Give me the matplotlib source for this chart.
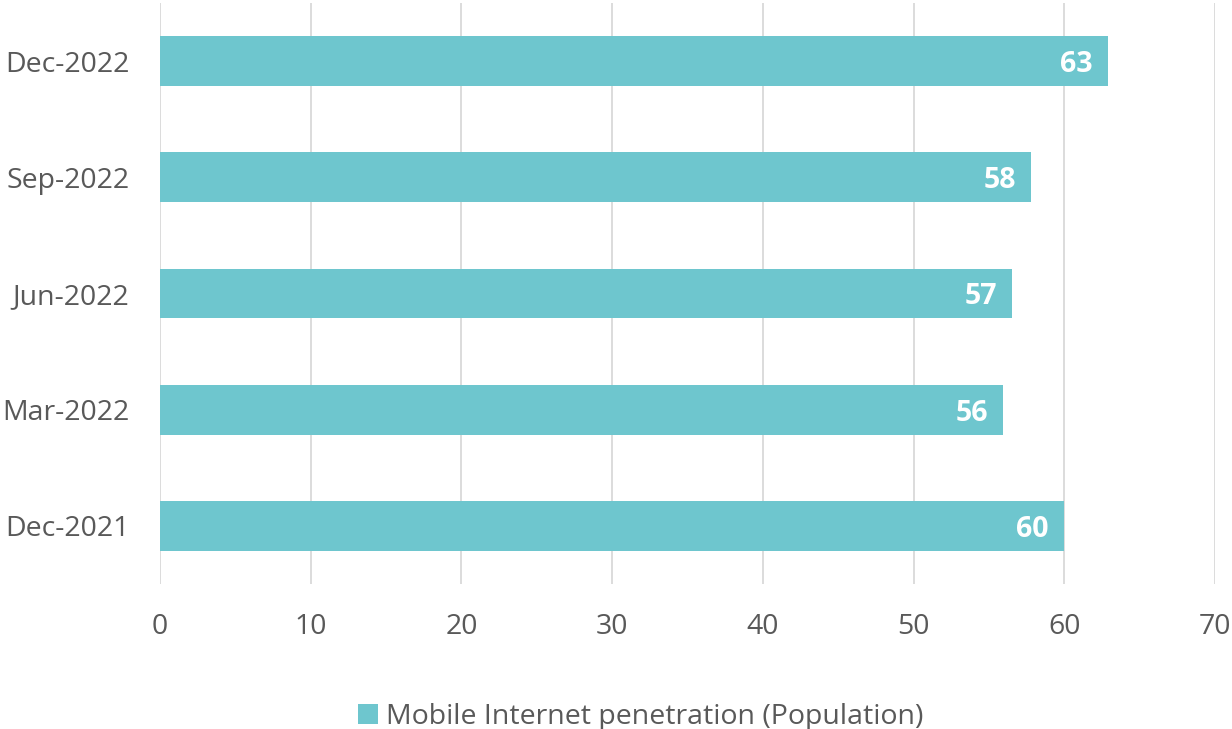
import matplotlib.pyplot as plt

# data
periods = ['Dec-2021', 'Mar-2022', 'Jun-2022', 'Sep-2022', 'Dec-2022']
penetration = [59.97, 55.96, 56.55, 57.8, 62.9]
series_name = 'Mobile Internet penetration (Population)'

bar_color = '#6EC6CE'
text_color = '#595959'

plt.rcParams['font.family'] = ['Open Sans', 'DejaVu Sans']

fig = plt.figure(figsize=(12.32, 7.29), dpi=100)
ax = fig.add_axes([160 / 1232, 1 - 584 / 729, (1215 - 160) / 1232, 581 / 729])

y = range(len(periods))
bars = ax.barh(y, penetration, height=0.43, color=bar_color, label=series_name, zorder=3)

for b, v in zip(bars, penetration):
    ax.text(b.get_width() - 1.0, b.get_y() + b.get_height() / 2 - 0.03, f'{v:.0f}',
            ha='right', va='center', color='white', fontsize=20.5, fontweight='bold', zorder=4)

ax.set_xlim(0, 70)
ax.set_ylim(-0.5, len(periods) - 0.5)
ax.set_xticks(range(0, 71, 10))
ax.set_yticks(list(y))
ax.set_yticklabels(periods)
ax.grid(axis='x', color='#D9D9D9', linewidth=1.3, zorder=0)
for s in ax.spines.values():
    s.set_visible(False)
ax.tick_params(axis='both', length=0, labelsize=20.5, labelcolor=text_color)
ax.tick_params(axis='x', pad=21)
ax.tick_params(axis='y', pad=22)

fig.legend(loc='lower center', bbox_to_anchor=(0.52, -0.038), frameon=False,
           fontsize=20.5, labelcolor=text_color, handlelength=0.7, handleheight=0.7,
           handletextpad=0.3)

fig.savefig('out.png', dpi=100)
